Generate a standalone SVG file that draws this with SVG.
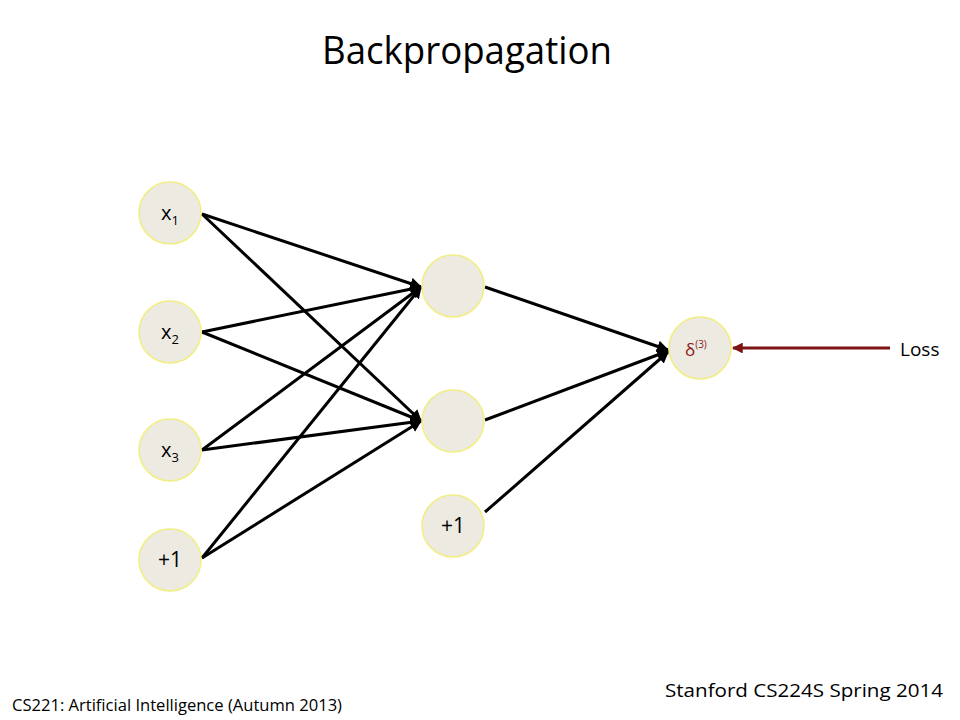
<svg xmlns="http://www.w3.org/2000/svg" width="960" height="720" viewBox="0 0 960 720">
<defs>
<style>
.node{fill:#EDEAE2;stroke:#F2EE85;stroke-width:1.6}
.t{font-family:"Open Sans","Liberation Sans",sans-serif;fill:#000}
.e{stroke:#000;stroke-width:3;fill:none;marker-end:url(#ah)}
</style>
<marker id="ah" viewBox="0 0 10 10" refX="9" refY="5" markerWidth="4" markerHeight="4" orient="auto" markerUnits="strokeWidth">
<path d="M0,0 L10,5 L0,10 z" fill="#000"/>
</marker>
<marker id="ahr" viewBox="0 0 10 10" refX="9" refY="5" markerWidth="3.6" markerHeight="3.6" orient="auto" markerUnits="strokeWidth">
<path d="M0,0 L10,5 L0,10 z" fill="#7D1414"/>
</marker>
</defs>
<rect width="960" height="720" fill="#fff"/>
<text class="t" x="467" y="64" font-size="39" text-anchor="middle" textLength="290" lengthAdjust="spacingAndGlyphs">Backpropagation</text>
<g id="connectors">
<line class="e" x1="202" y1="214" x2="421" y2="287"/>
<line class="e" x1="202" y1="214" x2="421" y2="421"/>
<line class="e" x1="202" y1="332" x2="421" y2="287"/>
<line class="e" x1="202" y1="332" x2="421" y2="421"/>
<line class="e" x1="202" y1="450" x2="421" y2="287"/>
<line class="e" x1="202" y1="450" x2="421" y2="421"/>
<line class="e" x1="202" y1="558" x2="421" y2="287"/>
<line class="e" x1="202" y1="558" x2="421" y2="421"/>
<line class="e" x1="485" y1="287" x2="668" y2="350"/>
<line class="e" x1="485" y1="420" x2="668" y2="351"/>
<line class="e" x1="485" y1="512" x2="668" y2="352"/>
<line x1="890" y1="348" x2="733" y2="348" stroke="#7D1414" stroke-width="3" marker-end="url(#ahr)"/>
</g>
<g id="x1"><circle class="node" cx="170" cy="213" r="31"/><text class="t" x="161" y="220" font-size="20">x<tspan font-size="13" dy="5">1</tspan></text></g>
<g id="x2"><circle class="node" cx="170" cy="332" r="31"/><text class="t" x="161" y="339" font-size="20">x<tspan font-size="13" dy="5">2</tspan></text></g>
<g id="x3"><circle class="node" cx="170" cy="450" r="31"/><text class="t" x="161" y="457" font-size="20">x<tspan font-size="13" dy="5">3</tspan></text></g>
<g id="b1"><circle class="node" cx="170" cy="560" r="31"/><text class="t" x="170" y="567" font-size="21" text-anchor="middle">+1</text></g>
<g id="h1"><circle class="node" cx="453" cy="286" r="31"/></g>
<g id="h2"><circle class="node" cx="453" cy="421" r="31"/></g>
<g id="b2"><circle class="node" cx="453" cy="526" r="31"/><text class="t" x="453" y="533" font-size="21" text-anchor="middle">+1</text></g>
<g id="out"><circle class="node" cx="700" cy="348" r="31"/><text class="t" x="685" y="356" font-size="17" style="fill:#8B1A1A">δ<tspan font-size="10" dy="-8">(3)</tspan></text></g>
<g id="loss"><text class="t" x="900" y="356" font-size="19">Loss</text></g>
<text class="t" x="12" y="711" font-size="16" textLength="330" lengthAdjust="spacingAndGlyphs">CS221: Artificial Intelligence (Autumn 2013)</text>
<text class="t" x="665" y="697" font-size="19" textLength="278" lengthAdjust="spacingAndGlyphs">Stanford CS224S Spring 2014</text>
</svg>
